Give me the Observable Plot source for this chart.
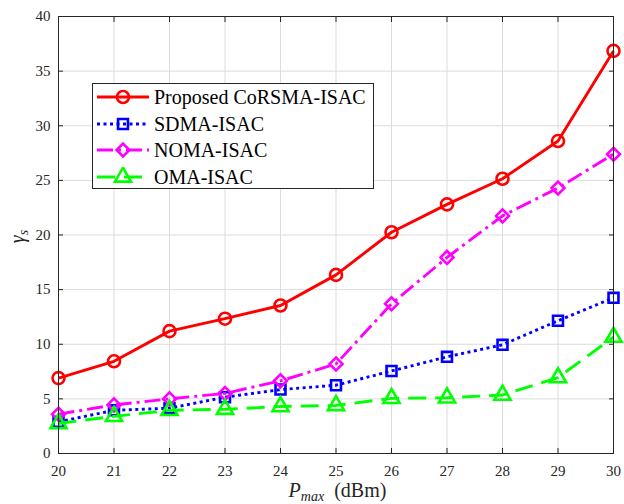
<!DOCTYPE html>
<html>
<head>
<meta charset="utf-8">
<script src="https://cdn.jsdelivr.net/npm/d3@7"></script>
<script src="https://cdn.jsdelivr.net/npm/@observablehq/plot@0.6"></script>
<style>
  html, body { margin: 0; padding: 0; background: white; }
  #wrap { position: relative; width: 624px; height: 504px; font-family: "Liberation Serif", "Times New Roman", serif; }
  #wrap svg text { font-family: "Liberation Serif", "Times New Roman", serif; }
  #legend { position: absolute; left: 92px; top: 83px; width: 280px; height: 104px; background: white; border: 1px solid #262626; padding: 0; }
  .row { display: flex; align-items: center; height: 26.5px; }
  .row svg { display: block; margin-left: 4px; margin-right: 5px; }
  .row span { font-size: 20px; color: #000; line-height: 26px; }
</style>
</head>
<body>
<div id="wrap"></div>
<script>
const xTicks = [20, 21, 22, 23, 24, 25, 26, 27, 28, 29, 30];
const yTicks = [0, 5, 10, 15, 20, 25, 30, 35, 40];
const pmax = [20, 21, 22, 23, 24, 25, 26, 27, 28, 29, 30];
const proposed = [6.9, 8.44, 11.2, 12.34, 13.55, 16.35, 20.25, 22.8, 25.15, 28.6, 36.85];
const sdma = [2.9, 3.95, 4.15, 5.15, 5.85, 6.25, 7.55, 8.85, 9.95, 12.15, 14.25];
const noma = [3.6, 4.45, 5.0, 5.5, 6.65, 8.2, 13.7, 17.95, 21.75, 24.3, 27.4];
const oma = [2.75, 3.4, 3.95, 4.05, 4.3, 4.4, 5.05, 5.1, 5.35, 6.95, 10.65];
const seriesNames = ["Proposed CoRSMA-ISAC", "SDMA-ISAC", "NOMA-ISAC", "OMA-ISAC"];

const styles = [
  {values: proposed, color: "#ff0000", dash: null, symbol: "circle", r: 6, sym: d3.symbolCircle},
  {values: sdma, color: "#0000ff", dash: "3,3.5", symbol: "square", r: 5.6, sym: d3.symbolSquare},
  {values: noma, color: "#ff00ff", dash: "16,5,3,5", symbol: "diamond2", r: 5.8, sym: d3.symbolDiamond2},
  {values: oma, color: "#00ff00", dash: "18,9", symbol: "triangle", r: 6, sym: d3.symbolTriangle}
];

const marks = [
  Plot.gridX(xTicks, {stroke: "#dcdcdc", strokeOpacity: 1}),
  Plot.gridY(yTicks, {stroke: "#dcdcdc", strokeOpacity: 1})
];
styles.forEach((s, i) => {
  const data = pmax.map((x, j) => ({x, y: s.values[j]}));
  marks.push(Plot.line(data, {x: "x", y: "y", stroke: s.color, strokeWidth: 2.9, strokeDasharray: s.dash, strokeLinecap: "butt"}));
  marks.push(Plot.dot(data, {x: "x", y: "y", stroke: s.color, strokeWidth: 2.6, fill: "none", symbol: s.symbol, r: s.r}));
});
marks.push(
  Plot.frame({stroke: "#262626", strokeWidth: 1}),
  Plot.axisX(xTicks, {anchor: "bottom", tickSize: -5, tickPadding: 17, label: null, fontSize: 15}),
  Plot.axisX(xTicks, {anchor: "top", tickSize: -5, tickFormat: () => "", label: null}),
  Plot.axisY(yTicks, {anchor: "left", tickSize: -5, tickPadding: 13, label: null, fontSize: 15}),
  Plot.axisY(yTicks, {anchor: "right", tickSize: -5, tickFormat: () => "", label: null})
);

const chart = Plot.plot({
  width: 624, height: 504,
  marginLeft: 58, marginRight: 11, marginTop: 16, marginBottom: 51,
  style: {fontFamily: "'Liberation Serif', 'Times New Roman', serif", fontSize: "15px", color: "#262626", background: "white"},
  x: {domain: [20, 30]},
  y: {domain: [0, 40]},
  marks
});
document.getElementById("wrap").appendChild(chart);

// axis labels with sub-scripts
const svg = d3.select(chart);
const xs = chart.scale("x"), ys = chart.scale("y");
const xMid = (xs.range[0] + xs.range[1]) / 2;
const yMid = (ys.range[0] + ys.range[1]) / 2;
const xl = svg.append("text").attr("x", xMid + 2).attr("y", 497).attr("text-anchor", "middle")
  .attr("font-size", 20).attr("fill", "#262626");
xl.append("tspan").attr("font-style", "italic").text("P");
xl.append("tspan").attr("font-style", "italic").attr("font-size", 14).attr("dy", 4).text("max");
xl.append("tspan").attr("dy", -4).text("\u2002(dBm)");
const yl = svg.append("text").attr("transform", `translate(24,${yMid + 2}) rotate(-90)`).attr("text-anchor", "middle")
  .attr("font-size", 20).attr("fill", "#262626");
yl.append("tspan").attr("font-style", "italic").text("\u03b3");
yl.append("tspan").attr("font-style", "italic").attr("font-size", 14).attr("dy", 4).text("s");

// legend
const legend = d3.select("#wrap").append("div").attr("id", "legend");
styles.forEach((s, i) => {
  const row = legend.append("div").attr("class", "row");
  const sv = row.append("svg").attr("width", 52).attr("height", 20);
  sv.append("line").attr("x1", 0).attr("x2", 52).attr("y1", 10).attr("y2", 10)
    .attr("stroke", s.color).attr("stroke-width", 2.9).attr("stroke-dasharray", s.dash);
  sv.append("path").attr("transform", "translate(26,10)")
    .attr("d", d3.symbol(s.sym, Math.PI * s.r * s.r)())
    .attr("fill", "none").attr("stroke", s.color).attr("stroke-width", 2.6);
  row.append("span").text(seriesNames[i]);
});
</script>
</body>
</html>
